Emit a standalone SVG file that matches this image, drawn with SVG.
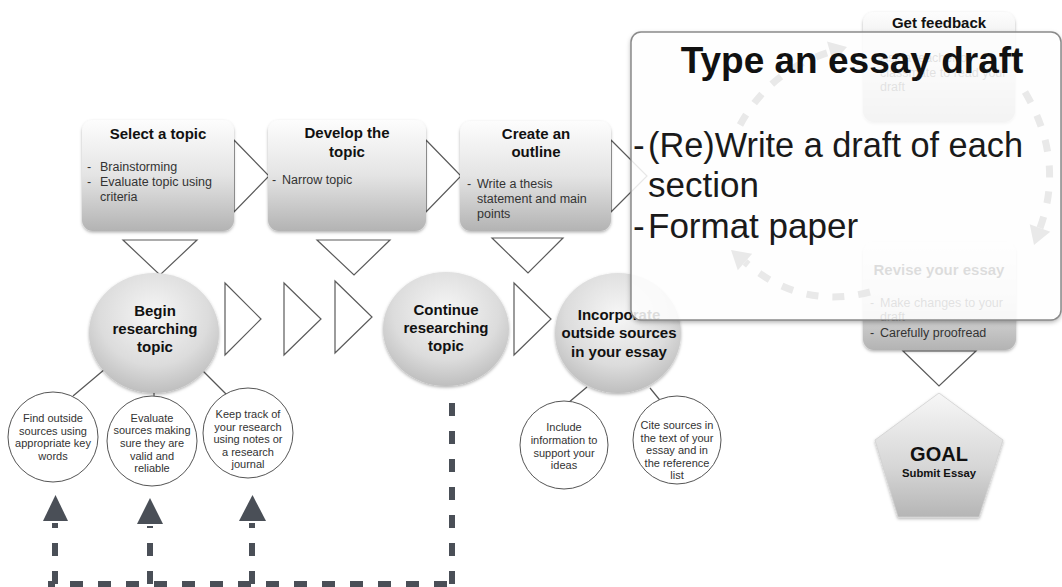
<svg xmlns="http://www.w3.org/2000/svg" width="1062" height="587" viewBox="0 0 1062 587">
<defs>
  <linearGradient id="boxg" x1="0" y1="0" x2="0" y2="1">
    <stop offset="0" stop-color="#fdfdfd"/>
    <stop offset="0.5" stop-color="#e4e4e4"/>
    <stop offset="1" stop-color="#b3b3b3"/>
  </linearGradient>
  <radialGradient id="circg" cx="0.5" cy="0.35" r="0.7">
    <stop offset="0" stop-color="#f6f6f6"/>
    <stop offset="0.6" stop-color="#dcdcdc"/>
    <stop offset="1" stop-color="#b8b8b8"/>
  </radialGradient>
  <linearGradient id="pentg" x1="0" y1="0" x2="0" y2="1">
    <stop offset="0" stop-color="#f7f7f7"/>
    <stop offset="0.6" stop-color="#d6d6d6"/>
    <stop offset="1" stop-color="#b5b5b5"/>
  </linearGradient>
  <filter id="sh" x="-10%" y="-10%" width="120%" height="125%">
    <feDropShadow dx="0" dy="1.5" stdDeviation="1.5" flood-color="#000" flood-opacity="0.3"/>
  </filter>
  <filter id="psh" x="-5%" y="-5%" width="110%" height="115%">
    <feDropShadow dx="0" dy="2" stdDeviation="2.5" flood-color="#000" flood-opacity="0.35"/>
  </filter>
  <mask id="outside">
    <rect width="1062" height="587" fill="#fff"/>
    <rect x="631" y="32" width="430" height="288" rx="10" fill="#000"/>
  </mask>
  <style>
    .box{fill:url(#boxg);filter:url(#sh);}
    .big{fill:url(#circg);filter:url(#sh);}
    .small{fill:#fff;stroke:#555;stroke-width:1;}
    .tri{fill:#fff;stroke:#5a5a5a;stroke-width:1.2;stroke-linejoin:miter;}
    .ln{stroke:#555;stroke-width:1.2;fill:none;}
    .t{font-family:"Liberation Sans",Arial,sans-serif;font-weight:bold;font-size:15px;fill:#111;text-anchor:middle;}
    .b{font-family:"Liberation Sans",Arial,sans-serif;font-size:12.5px;fill:#333;}
    .c{font-family:"Liberation Sans",Arial,sans-serif;font-weight:bold;font-size:15px;fill:#111;text-anchor:middle;}
    .s{font-family:"Liberation Sans",Arial,sans-serif;font-size:11px;fill:#333;text-anchor:middle;}
    .dash{stroke:#4a4f57;stroke-width:6;fill:none;stroke-dasharray:13 15;}
    .head{fill:#4a4f57;}
    .cyc{stroke:#6a6a6a;stroke-width:7;fill:none;stroke-dasharray:12 14;}
    .cych{fill:#6a6a6a;}
    .big1{font-family:"Liberation Sans",Arial,sans-serif;font-size:35px;fill:#1a1a1a;}
  </style>
</defs>
<rect width="1062" height="587" fill="#fff"/>

<g id="connectors">
  <polygon class="tri" points="234,140 269,176 234,212"/>
  <polygon class="tri" points="426,140 461,176 426,212"/>
  <polygon class="tri" points="611,140 647,176 611,212"/>
  <polygon class="tri" points="123,240 197,240 160,275"/>
  <polygon class="tri" points="317,240 390,240 354,275"/>
  <polygon class="tri" points="492,238 563,238 528,273"/>
  <polygon class="tri" points="903,351 976,351 939,386"/>
  <polygon class="tri" points="225,283 261,319 225,355"/>
  <polygon class="tri" points="284,283 321,319 284,355"/>
  <polygon class="tri" points="335,281 372,317 335,353"/>
  <polygon class="tri" points="514,283 551,319 514,355"/>
  <line class="ln" x1="105" y1="369" x2="73" y2="396"/>
  <line class="ln" x1="154" y1="393" x2="154" y2="396"/>
  <line class="ln" x1="199" y1="367" x2="228" y2="396"/>
  <line class="ln" x1="587" y1="387" x2="568" y2="403"/>
  <line class="ln" x1="650" y1="388" x2="663" y2="404"/>
  <path class="dash" d="M452,403 V586"/>
  <path class="dash" d="M447,584 H48"/>
  <path class="dash" d="M55,584 V523"/>
  <path class="dash" d="M150,584 V526"/>
  <path class="dash" d="M252,584 V523"/>
  <polygon class="head" points="43,521 68,521 55.5,495"/>
  <polygon class="head" points="137,524 163,524 150,498"/>
  <polygon class="head" points="239,521 266,521 252.5,495"/>
</g>

<g id="select-topic">
  <rect class="box" x="82" y="120" width="152" height="111" rx="11"/>
  <text class="t" x="158" y="139">Select a topic</text>
  <text class="b" x="87" y="171">-</text>
  <text class="b" x="100" y="171">Brainstorming</text>
  <text class="b" x="87" y="186">-</text>
  <text class="b" x="100" y="186">Evaluate topic using</text>
  <text class="b" x="100" y="201">criteria</text>
</g>

<g id="develop-topic">
  <rect class="box" x="268" y="120" width="158" height="111" rx="11"/>
  <text class="t" x="347" y="138">Develop the</text>
  <text class="t" x="347" y="157">topic</text>
  <text class="b" x="272" y="184">-</text>
  <text class="b" x="282" y="184">Narrow topic</text>
</g>

<g id="create-outline">
  <rect class="box" x="460" y="121" width="151" height="110" rx="11"/>
  <text class="t" x="536" y="139">Create an</text>
  <text class="t" x="536" y="157">outline</text>
  <text class="b" x="467" y="188">-</text>
  <text class="b" x="477" y="188">Write a thesis</text>
  <text class="b" x="477" y="203">statement and main</text>
  <text class="b" x="477" y="218">points</text>
</g>

<g id="begin-research">
  <ellipse class="big" cx="154" cy="333" rx="65" ry="60"/>
  <text class="c" x="155" y="316">Begin</text>
  <text class="c" x="155" y="334">researching</text>
  <text class="c" x="155" y="352">topic</text>
</g>

<g id="continue-research">
  <ellipse class="big" cx="446" cy="329" rx="63" ry="57"/>
  <text class="c" x="446" y="315">Continue</text>
  <text class="c" x="446" y="333">researching</text>
  <text class="c" x="446" y="351">topic</text>
</g>

<g id="incorporate">
  <ellipse class="big" cx="618" cy="333" rx="63" ry="60"/>
  <text class="c" x="619" y="320">Incorporate</text>
  <text class="c" x="619" y="338">outside sources</text>
  <text class="c" x="619" y="357">in your essay</text>
</g>

<g id="find-sources">
  <circle class="small" cx="53" cy="437" r="45"/>
  <text class="s" x="53" y="422">Find outside</text>
  <text class="s" x="53" y="435">sources using</text>
  <text class="s" x="53" y="447">appropriate key</text>
  <text class="s" x="53" y="460">words</text>
</g>

<g id="evaluate-sources">
  <circle class="small" cx="152" cy="441" r="45"/>
  <text class="s" x="152" y="422">Evaluate</text>
  <text class="s" x="152" y="434">sources making</text>
  <text class="s" x="152" y="447">sure they are</text>
  <text class="s" x="152" y="460">valid and</text>
  <text class="s" x="152" y="472">reliable</text>
</g>

<g id="keep-track">
  <circle class="small" cx="248" cy="433" r="45"/>
  <text class="s" x="248" y="418">Keep track of</text>
  <text class="s" x="248" y="431">your research</text>
  <text class="s" x="248" y="443">using notes or</text>
  <text class="s" x="248" y="456">a research</text>
  <text class="s" x="248" y="468">journal</text>
</g>

<g id="include-info">
  <circle class="small" cx="564" cy="445" r="44"/>
  <text class="s" x="564" y="431">Include</text>
  <text class="s" x="564" y="444">information to</text>
  <text class="s" x="564" y="457">support your</text>
  <text class="s" x="564" y="469">ideas</text>
</g>

<g id="cite-sources">
  <circle class="small" cx="677" cy="440" r="44"/>
  <text class="s" x="677" y="429">Cite sources in</text>
  <text class="s" x="677" y="442">the text of your</text>
  <text class="s" x="677" y="454">essay and in</text>
  <text class="s" x="677" y="467">the reference</text>
  <text class="s" x="677" y="479">list</text>
</g>

<g id="get-feedback">
  <rect class="box" x="863" y="12" width="152" height="110" rx="11"/>
  <text class="t" x="939" y="28">Get feedback</text>
  <text class="b" x="870" y="62">-</text>
  <text class="b" x="880" y="62">Ask a teacher or</text>
  <text class="b" x="880" y="77">classmate to read your</text>
  <text class="b" x="880" y="91">draft</text>
</g>

<g id="revise-essay">
  <rect class="box" x="863" y="242" width="153" height="108" rx="11"/>
  <text class="t" x="939" y="275">Revise your essay</text>
  <text class="b" x="870" y="307">-</text>
  <text class="b" x="880" y="307">Make changes to your</text>
  <text class="b" x="880" y="321">draft</text>
  <text class="b" x="870" y="337">-</text>
  <text class="b" x="880" y="337">Carefully proofread</text>
</g>

<g id="cycle-arrows">
  <path class="cyc" d="M740,125 Q770,70 830,52"/>
  <polygon class="cych" points="847,47 833,62.5 827,41.5"/>
  <path class="cyc" d="M1025,92 Q1065,160 1040,228"/>
  <polygon class="cych" points="1034,245 1050.3,231.8 1029.7,224.2"/>
  <path class="cyc" d="M870,292 Q800,310 745,262"/>
  <polygon class="cych" points="731,250 752.2,253.7 737.8,270.3"/>
</g>

<g id="type-draft">
  <rect x="631" y="32" width="430" height="288" rx="10" fill="#fff" filter="url(#psh)" mask="url(#outside)"/>
  <rect x="631" y="32" width="430" height="288" rx="10" fill="#fefefe" fill-opacity="0.86" stroke="#8a8a8a" stroke-width="1.5"/>
  <text x="852" y="73" font-family="'Liberation Sans',Arial,sans-serif" font-weight="bold" font-size="37" fill="#111" text-anchor="middle">Type an essay draft</text>
  <text class="big1" x="633" y="157">-</text>
  <text class="big1" x="648" y="157" textLength="375" lengthAdjust="spacingAndGlyphs">(Re)Write a draft of each</text>
  <text class="big1" x="648" y="197">section</text>
  <text class="big1" x="633" y="238">-</text>
  <text class="big1" x="648" y="238">Format paper</text>
</g>

<g id="goal">
  <polygon points="939,393 1003,440 979,517 898,517 875,440" fill="url(#pentg)" filter="url(#sh)" stroke="#d0d0d0" stroke-width="0.8" stroke-linejoin="round"/>
  <text x="939" y="461" font-family="'Liberation Sans',Arial,sans-serif" font-weight="bold" font-size="20" fill="#111" text-anchor="middle">GOAL</text>
  <text x="939" y="477" font-family="'Liberation Sans',Arial,sans-serif" font-weight="bold" font-size="11.3" fill="#111" text-anchor="middle">Submit Essay</text>
</g>
</svg>
